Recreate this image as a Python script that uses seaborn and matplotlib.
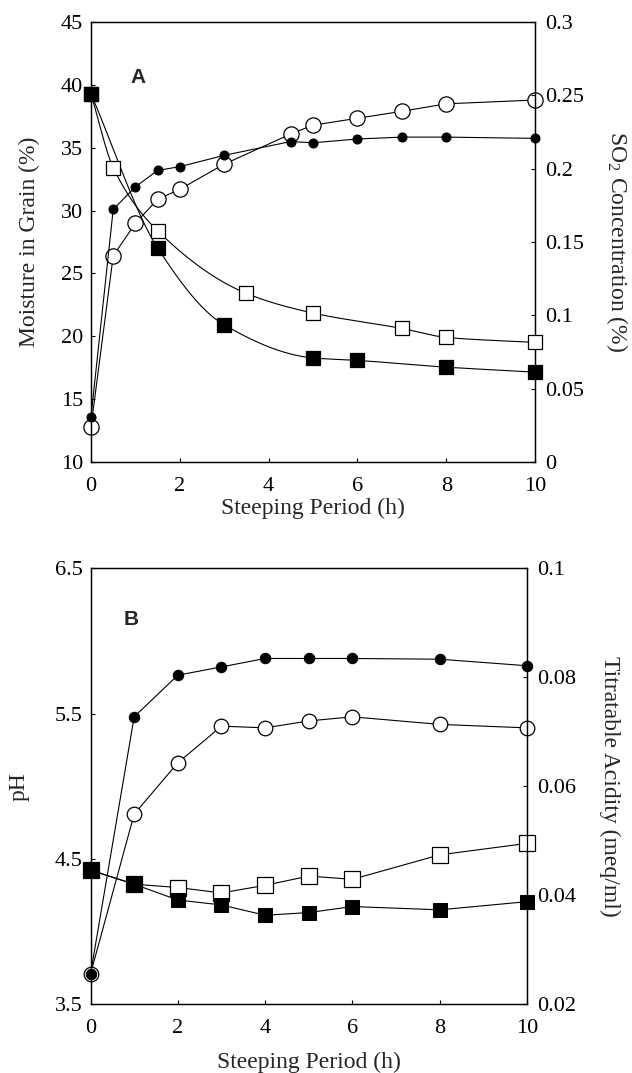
import numpy as np
import pandas as pd
import matplotlib
matplotlib.use("Agg")
import matplotlib.pyplot as plt
import seaborn as sns

# ---------------- data ----------------
# Panel A: moisture (left axis) and SO2 concentration (right axis)
a_fc_x = [0, 0.5, 1, 1.5, 2, 3, 4.5, 5, 6, 7, 8, 10]
a_fc_y = [13.6, 30.1, 31.9, 33.2, 33.5, 34.4, 35.5, 35.4, 35.7, 35.85, 35.85, 35.75]
a_oc_x = [0, 0.5, 1, 1.5, 2, 3, 4.5, 5, 6, 7, 8, 10]
a_oc_y = [12.8, 26.4, 29.0, 30.9, 31.7, 33.7, 36.1, 36.8, 37.35, 37.9, 38.5, 38.8]
a_fs_x = [0, 1.5, 3, 5, 6, 8, 10]
a_fs_y = [0.251, 0.146, 0.0935, 0.071, 0.0693, 0.0647, 0.0613]
a_os_x = [0, 0.5, 1.5, 3.5, 5, 7, 8, 10]
a_os_y = [0.251, 0.2008, 0.1577, 0.115, 0.1016, 0.0911, 0.085, 0.0816]

# Panel B: pH (left axis) and titratable acidity (right axis)
b_x = [0, 1, 2, 3, 4, 5, 6, 8, 10]
b_fc_y = [3.706, 5.478, 5.765, 5.822, 5.88, 5.88, 5.88, 5.875, 5.83]
b_oc_y = [3.706, 4.808, 5.161, 5.414, 5.402, 5.45, 5.478, 5.426, 5.402]
b_fs_y = [0.0446, 0.042, 0.0391, 0.0382, 0.0363, 0.0368, 0.0379, 0.0373, 0.0388]
b_os_y = [0.0446, 0.042, 0.0414, 0.0404, 0.0418, 0.0435, 0.0429, 0.0474, 0.0495]

a_left_ticks = [10, 15, 20, 25, 30, 35, 40, 45]
a_right_ticks = [0, 0.05, 0.1, 0.15, 0.2, 0.25, 0.3]
a_right_labels = ["0", "0.05", "0.1", "0.15", "0.2", "0.25", "0.3"]
b_left_ticks = [3.5, 4.5, 5.5, 6.5]
b_right_ticks = [0.02, 0.04, 0.06, 0.08, 0.1]
b_right_labels = ["0.02", "0.04", "0.06", "0.08", "0.1"]
x_ticks = [0, 2, 4, 6, 8, 10]


def pchip(x, y, n=300):
    """Monotone cubic Hermite curve through the given points (for drawing smooth lines)."""
    x = np.asarray(x, float)
    y = np.asarray(y, float)
    h = np.diff(x)
    d = np.diff(y) / h
    m = np.zeros_like(y)
    for k in range(1, len(x) - 1):
        if d[k - 1] * d[k] > 0:
            w1 = 2 * h[k] + h[k - 1]
            w2 = h[k] + 2 * h[k - 1]
            m[k] = (w1 + w2) / (w1 / d[k - 1] + w2 / d[k])
    m[0] = d[0]
    m[-1] = d[-1]
    xs = np.linspace(x[0], x[-1], n)
    idx = np.clip(np.searchsorted(x, xs) - 1, 0, len(x) - 2)
    t = (xs - x[idx]) / h[idx]
    h00 = 2 * t**3 - 3 * t**2 + 1
    h10 = t**3 - 2 * t**2 + t
    h01 = -2 * t**3 + 3 * t**2
    h11 = t**3 - t**2
    ys = h00 * y[idx] + h10 * h[idx] * m[idx] + h01 * y[idx + 1] + h11 * h[idx] * m[idx + 1]
    return xs, ys


sns.set_theme(style="ticks")
plt.rcParams["font.family"] = ["Liberation Serif", "DejaVu Serif"]
plt.rcParams["mathtext.default"] = "regular"

fig = plt.figure(figsize=(6.32, 10.73), dpi=100)
axA = fig.add_axes([0.1440, 0.5694, 0.7025, 0.4100])
axB = fig.add_axes([0.1432, 0.0643, 0.6907, 0.4059])

TICK_FS = 16
LAB_FS = 17
LW = 0.8


def style_axis(ax, right=False):
    ax.tick_params(direction="in", length=3, width=0.8, labelsize=TICK_FS, colors="black")
    ax.tick_params(axis="x", pad=11)
    ax.tick_params(axis="y", pad=7 if right else 5.5)
    for s in ax.spines.values():
        s.set_linewidth(0.9)
        s.set_color("black")


# ---------------- Panel A ----------------
axA2 = axA.twinx()
dfA_fc = pd.DataFrame({"x": a_fc_x, "y": a_fc_y})
dfA_oc = pd.DataFrame({"x": a_oc_x, "y": a_oc_y})
dfA_fs = pd.DataFrame({"x": a_fs_x, "y": a_fs_y})
dfA_os = pd.DataFrame({"x": a_os_x, "y": a_os_y})

sns.lineplot(data=dfA_oc, x="x", y="y", ax=axA, color="black", lw=LW, marker="o",
             markersize=11, markerfacecolor="white", markeredgecolor="black",
             markeredgewidth=0.9, zorder=2)
sns.lineplot(data=dfA_fc, x="x", y="y", ax=axA, color="black", lw=LW, marker="o",
             markersize=6.5, markerfacecolor="black", markeredgecolor="black", zorder=3)

xs, ys = pchip(a_os_x, a_os_y)
axA2.plot(xs, ys, color="black", lw=LW, zorder=1)
xs, ys = pchip(a_fs_x, a_fs_y)
axA2.plot(xs, ys, color="black", lw=LW, zorder=1)
sns.scatterplot(data=dfA_os, x="x", y="y", ax=axA2, marker="s", s=10**2,
                facecolor="white", edgecolor="black", linewidth=0.9, zorder=3, clip_on=False)
sns.scatterplot(data=dfA_fs, x="x", y="y", ax=axA2, marker="s", s=9.5**2,
                color="black", edgecolor="black", linewidth=0.9, zorder=4, clip_on=False)
for line in axA.lines:
    line.set_clip_on(False)

axA.set_xlim(0, 10)
axA.set_ylim(10, 45)
axA2.set_ylim(0, 0.3)
axA.set_xticks(x_ticks)
axA.set_yticks(a_left_ticks)
axA2.set_yticks(a_right_ticks)
axA2.set_yticklabels(a_right_labels)
axA.set_xlabel("Steeping Period (h)", fontsize=LAB_FS, labelpad=1)
axA.set_ylabel("Moisture in Grain (%)", fontsize=LAB_FS, labelpad=15)
axA2.set_ylabel("SO$_2$ Concentration (%)", fontsize=LAB_FS, rotation=270, labelpad=33)
axA.text(1.06, 40.6, "A", fontsize=15, fontweight="bold",
         family=["Liberation Sans", "DejaVu Sans"], ha="center", va="center")
style_axis(axA)
style_axis(axA2, right=True)

# ---------------- Panel B ----------------
axB2 = axB.twinx()
dfB = pd.DataFrame({"x": b_x, "fc": b_fc_y, "oc": b_oc_y, "fs": b_fs_y, "os": b_os_y})

sns.lineplot(data=dfB, x="x", y="oc", ax=axB, color="black", lw=LW, marker="o",
             markersize=10.5, markerfacecolor="white", markeredgecolor="black",
             markeredgewidth=0.9, zorder=2)
sns.lineplot(data=dfB, x="x", y="fc", ax=axB, color="black", lw=LW, marker="o",
             markersize=7.5, markerfacecolor="black", markeredgecolor="black", zorder=3)
sns.lineplot(data=dfB, x="x", y="os", ax=axB2, color="black", lw=LW, marker="s",
             markersize=11, markerfacecolor="white", markeredgecolor="black",
             markeredgewidth=0.9, zorder=2)
sns.lineplot(data=dfB, x="x", y="fs", ax=axB2, color="black", lw=LW, marker="s",
             markersize=10.5, markerfacecolor="black", markeredgecolor="black", zorder=3)
for ax in (axB, axB2):
    for line in ax.lines:
        line.set_clip_on(False)

axB.set_xlim(0, 10)
axB.set_ylim(3.5, 6.5)
axB2.set_ylim(0.02, 0.1)
axB.set_xticks(x_ticks)
axB.set_yticks(b_left_ticks)
axB2.set_yticks(b_right_ticks)
axB2.set_yticklabels(b_right_labels)
axB.set_xlabel("Steeping Period (h)", fontsize=LAB_FS, labelpad=10)
axB.set_ylabel("pH", fontsize=LAB_FS, labelpad=18)
axB2.set_ylabel("Titratable Acidity (meq/ml)", fontsize=LAB_FS, rotation=270, labelpad=32)
axB.text(0.94, 6.15, "B", fontsize=15, fontweight="bold",
         family=["Liberation Sans", "DejaVu Sans"], ha="center", va="center")
style_axis(axB)
style_axis(axB2, right=True)

fig.savefig("out.png", dpi=100)
